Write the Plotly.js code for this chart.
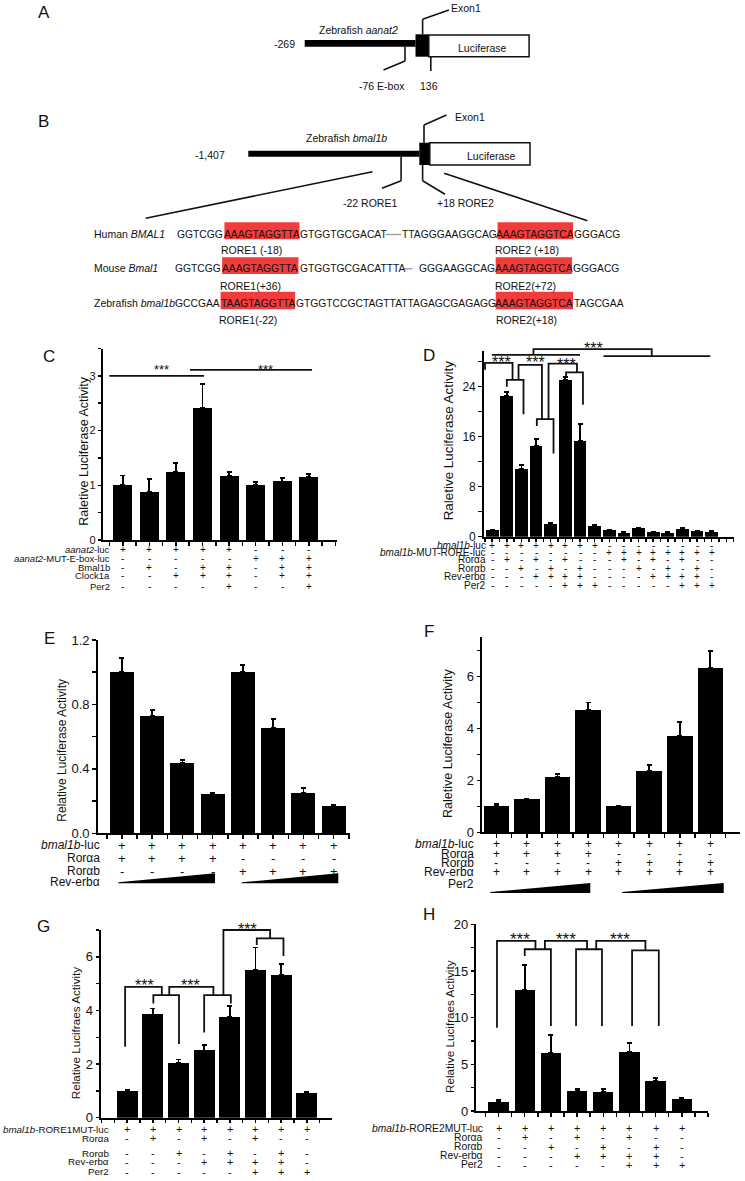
<!DOCTYPE html>
<html><head><meta charset="utf-8">
<script src="https://cdn.plot.ly/plotly-3.0.1.min.js"></script>
<style>html,body{margin:0;padding:0;background:#fff}#chart{width:745px;height:1181px}</style>
</head><body><div id="chart"></div>
<script>
const W = 745, H = 1181;
const FONT = '"Liberation Sans", Arial, Helvetica, sans-serif';

// ---------------- DATA ----------------
// Panel C
const cCategories = [1,2,3,4,5,6,7,8];
const cValues = [1.0, 0.875, 1.25, 2.42, 1.17, 1.0, 1.07, 1.15];
const cErrors = [0.18, 0.235, 0.16, 0.43, 0.08, 0.06, 0.07, 0.05];
const cRowLabels = ['<i>aanat2</i>-luc', '<i>aanat2</i>-MUT-E-box-luc', 'Bmal1b', 'Clock1a', 'Per2'];
const cRowSigns = ['+++++---', '-----+++', '-+-++-++', '--+++-++', '----+--+'];
const cBrackets = [[0.49, 4.06, 3.0, 3.0, 3.0], [3.53, 8.12, 3.11, 3.11, 3.11]];
const cStars = [[2.46, 3.19], [6.38, 3.19]];
const cTitle = 'Raletive Luciferase Activity';

// Panel D
const dCategories = [1,2,3,4,5,6,7,8,9,10,11,12,13,14,15,16];
const dValues = [1.0, 22.5, 10.9, 14.5, 2.1, 25.1, 15.3, 1.76, 1.07, 0.64, 1.33, 0.7, 0.64, 1.28, 0.85, 0.8];
const dErrors = [0.05, 0.6, 0.6, 1.1, 0.1, 0.4, 2.7, 0.05, 0.05, 0.05, 0.05, 0.05, 0.05, 0.05, 0.05, 0.05];
const dRowLabels = ['<i>bmal1b</i>-luc', '<i>bmal1b</i>-MUT-RORE-luc', 'Rorαa', 'Rorαb', 'Rev-erbα', 'Per2'];
const dRowSigns = ['++++++++--------', '--------++++++++', '-+-+-+---+-+-+--', '--+-+-+---+-+-+-', '---++++----++++-', '-----+++-----+++'];
const dBrackets = [
  [0.51, 2.39, 27.8, 26.7, 25.1], [2.0, 3.14, 25.1, 24.0, 19.6],
  [2.8, 4.4, 27.5, 25.1, 18.8], [4.05, 5.19, 18.8, 17.7, 13.3],
  [4.85, 6.79, 27.7, 18.7, 26.3], [6.05, 7.2, 26.3, 25.6, 21.1],
  [0.98, 7.0, 29.1, 29.1, 29.1], [3.82, 11.9, 30.0, 29.1, 28.9],
  [8.6, 15.9, 28.9, 28.9, 28.9]
];
const dStars = [[1.66, 28.6], [3.94, 28.6], [6.1, 28.3], [7.92, 30.8]];
const dTitle = 'Raletive Luciferase Activity';

// Panel E
const eCategories = [1,2,3,4,5,6,7,8];
const eValues = [1.0, 0.73, 0.439, 0.244, 1.0, 0.656, 0.25, 0.17];
const eErrors = [0.087, 0.036, 0.016, 0.006, 0.046, 0.052, 0.03, 0.006];
const eRowLabels = ['<i>bmal1b</i>-luc', 'Rorαa', 'Rorαb', 'Rev-erbα'];
const eRowSigns = ['++++++++', '++++----', '----++++', null];
const eTitle = 'Relative Luciferase Activity';

// Panel F
const fCategories = [1,2,3,4,5,6,7,8];
const fValues = [1.01, 1.28, 2.13, 4.7, 1.01, 2.37, 3.72, 6.33];
const fErrors = [0.09, 0.01, 0.1, 0.29, 0.01, 0.23, 0.52, 0.64];
const fRowLabels = ['<i>bmal1b</i>-luc', 'Rorαa', 'Rorαb', 'Rev-erbα', 'Per2'];
const fRowSigns = ['++++++++', '++++----', '----++++', '++++++++', null];
const fTitle = 'Raletive Luciferase Activity';

// Panel G
const gCategories = [1,2,3,4,5,6,7,8];
const gValues = [0.99, 3.85, 2.05, 2.51, 3.76, 5.5, 5.34, 0.93];
const gErrors = [0.04, 0.22, 0.12, 0.19, 0.41, 0.85, 0.4, 0.03];
const gRowLabels = ['<i>bmal1b</i>-RORE1MUT-luc', 'Rorαa', 'Rorαb', 'Rev-erbα', 'Per2'];
const gRowSigns = ['++++++++', '-+-+-+--', '--+-+-+-', '---++++-', '-----+++'];
const gBrackets = [
  [0.92, 2.35, 4.88, 2.65, 4.57], [2.02, 3.02, 4.57, 4.26, 2.75],
  [2.64, 4.36, 4.88, 4.57, 4.57], [4.0, 5.04, 4.57, 3.18, 4.26],
  [4.75, 6.57, 7.0, 4.57, 6.69], [6.05, 7.09, 6.69, 6.44, 6.03]
];
const gStars = [[1.66, 5.1], [3.45, 5.1], [5.68, 7.2]];
const gTitle = 'Relative Lucifraes Activity';

// Panel H
const hCategories = [1,2,3,4,5,6,7,8];
const hValues = [0.96, 12.96, 6.18, 2.18, 2.07, 6.36, 3.25, 1.29];
const hErrors = [0.22, 2.68, 1.93, 0.18, 0.25, 0.89, 0.32, 0.07];
const hRowLabels = ['<i>bmal1b</i>-RORE2MUT-luc', 'Rorαa', 'Rorαb', 'Rev-erbα', 'Per2'];
const hRowSigns = ['++++++++', '-+-+-+--', '--+-+-+-', '---++++-', '-----+++'];
const hBrackets = [
  [0.94, 2.41, 18.22, 8.93, 17.33], [2.0, 3.0, 17.33, 16.6, 9.1],
  [2.77, 4.38, 18.22, 17.33, 17.33], [3.96, 4.95, 17.33, 9.1, 9.1],
  [4.73, 6.61, 18.22, 17.33, 17.2], [6.1, 7.12, 17.2, 9.1, 9.1]
];
const hStars = [[1.81, 18.9], [3.59, 18.9], [5.63, 18.9]];
const hTitle = 'Relative Lucifraes Activity';

// Panel B sequences
const seqRows = [
  {label: 'Human <i>BMAL1</i>', pre: 'GGTCGG', r1: 'AAAGTAGGTTA', mid1: 'GTGGTGCGACAT', mid2: 'TTAGGGAAGGCAG', r2: 'AAAGTAGGTCA', post: 'GGGACG', l1: 'RORE1 (-18)', l2: 'RORE2 (+18)'},
  {label: 'Mouse <i>Bmal1</i>', pre: 'GGTCGG', r1: 'AAAGTAGGTTA', mid1: 'GTGGTGCGACATTTA', mid2: 'GGGAAGGCAG', r2: 'AAAGTAGGTCA', post: 'GGGACG', l1: 'RORE1(+36)', l2: 'RORE2(+72)'},
  {label: 'Zebrafish <i>bmal1b</i>', pre: 'GCCGAA', r1: 'TAAGTAGGTTA', mid1: 'GTGGTCCGCTAGTTATTAGAGCGAGAGG', mid2: '', r2: 'AAAGTAGGTCA', post: 'TAGCGAA', l1: 'RORE1(-22)', l2: 'RORE2(+18)'}
];

// ---------------- LAYOUT ----------------
const layout = {
  width: W, height: H, margin: {l: 0, r: 0, t: 0, b: 0},
  paper_bgcolor: '#fff', plot_bgcolor: 'rgba(0,0,0,0)', showlegend: false,
  font: {family: FONT, color: '#111'}, shapes: [], annotations: [], bargap: 0
};
const data = [];
const P = x => x / W, Q = y => 1 - y / H;

function txt(x, y, text, size, opts) {
  const a = {xref: 'paper', yref: 'paper', x: P(x), y: Q(y), text: text, showarrow: false,
    xanchor: 'center', yanchor: 'middle', borderpad: 0,
    font: {family: FONT, size: size, color: '#111'}};
  layout.annotations.push(Object.assign(a, opts || {}));
}
function line(x0, y0, x1, y1, w, color, dash) {
  layout.shapes.push({type: 'line', xref: 'paper', yref: 'paper', x0: P(x0), y0: Q(y0), x1: P(x1), y1: Q(y1),
    line: {color: color || '#111', width: w || 1.8, dash: dash || 'solid'}});
}
function rect(x0, y0, x1, y1, fill, lw, lc) {
  layout.shapes.push({type: 'rect', xref: 'paper', yref: 'paper', x0: P(x0), y0: Q(y1), x1: P(x1), y1: Q(y0),
    fillcolor: fill, line: {color: lc || '#111', width: lw || 0}});
}
function poly(pts, fill) {
  const d = pts.map((p, i) => (i ? 'L' : 'M') + P(p[0]).toFixed(5) + ',' + Q(p[1]).toFixed(5)).join(' ') + ' Z';
  layout.shapes.push({type: 'path', xref: 'paper', yref: 'paper', path: d, fillcolor: fill, line: {width: 0}});
}

// -------- Panels A and B (construct diagrams) --------
const LETTER = 17;
txt(43.5, 12.7, 'A', LETTER);
rect(304.7, 40, 415.5, 46.7, '#000');
rect(415.5, 34.3, 428.8, 56.7, '#000');
rect(428.8, 35, 529.1, 56.7, '#fff', 1.5, '#111');
line(422.6, 19.3, 422.6, 34.3, 1.6); line(422.6, 19.3, 448.9, 10, 1.6);
line(405, 46.7, 405, 61, 1.6); line(405, 61, 383.5, 70, 1.6);
line(430.8, 56.7, 430.8, 71, 1.6);
txt(466, 7.5, 'Exon1', 10.5);
txt(358, 30, 'Zebrafish <i>aanat2</i>', 10.5);
txt(284, 44.3, '-269', 10.5);
txt(482.3, 48, 'Luciferase', 10.5);
txt(382, 86, '-76 E-box', 10.5);
txt(429, 86, '136', 10.5);

txt(43.5, 121.7, 'B', LETTER);
rect(248.3, 150.7, 419.3, 156.7, '#000');
rect(419.3, 142.7, 429.8, 165, '#000');
rect(429.8, 142.7, 530, 165, '#fff', 1.5, '#111');
line(424, 125, 424, 142.7, 1.6); line(424, 125, 446.5, 115, 1.6);
line(401.1, 156.7, 401.1, 180.7, 1.6); line(401.1, 180.7, 382, 188.3, 1.6);
line(422.6, 165, 422.6, 180.7, 1.6); line(422.6, 180.7, 445, 194.3, 1.6);
line(372.5, 171.7, 145.7, 218.3, 1.6);
line(444.1, 173.3, 587.4, 220.7, 1.6);
txt(470.4, 116.7, 'Exon1', 10.5);
txt(346.2, 138.3, 'Zebrafish <i>bmal1b</i>', 10.5);
txt(210, 155, '-1,407', 10.5);
txt(491.9, 156, 'Luciferase', 10.5);
txt(370, 203.3, '-22 RORE1', 10.5);
txt(465.6, 203.3, '+18 RORE2', 10.5);

// sequence rows geometry (pixels)
const seqGeo = [
  {y: 234, ly: 250.5, b1: [224.4, 299.4], b2: [497.6, 573], top: 222.3, bot: 239.3, gap: [385.9, 401.1], dash: 'solid'},
  {y: 268.3, ly: 285.5, b1: [222.1, 298.5], b2: [495.7, 572.1], top: 257.3, bot: 274, gap: [403.5, 420.2], dash: 'dash'},
  {y: 303.3, ly: 320.5, b1: [220.6, 295.1], b2: [495.7, 573], top: 291.7, bot: 309.3, gap: null}
];
const SEQF = 10.3, RED = '#f23c3c';
seqRows.forEach((r, i) => {
  const g = seqGeo[i];
  rect(g.b1[0], g.top, g.b1[1], g.bot, RED);
  rect(g.b2[0], g.top, g.b2[1], g.bot, RED);
  txt(93, g.y, r.label, 10.5, {xanchor: 'left'});
  txt(g.b1[0], g.y, r.pre, SEQF, {xanchor: 'right'});
  txt((g.b1[0] + g.b1[1]) / 2, g.y, r.r1, SEQF);
  txt(g.b1[1], g.y, r.mid1, SEQF, {xanchor: 'left'});
  if (r.mid2) txt(g.b2[0], g.y, r.mid2, SEQF, {xanchor: 'right'});
  txt((g.b2[0] + g.b2[1]) / 2, g.y, r.r2, SEQF);
  txt(g.b2[1], g.y, r.post, SEQF, {xanchor: 'left'});
  if (g.gap) line(g.gap[0], g.y + 0.5, g.gap[1], g.y + 0.5, 1.3, '#999', g.dash);
  txt((g.b1[0] + g.b1[1]) / 2 - 10, g.ly, r.l1, 10.5);
  txt((g.b2[0] + g.b2[1]) / 2 - 8, g.ly, r.l2, 10.5);
});

// -------- Bar panels --------
const panels = [
  {idx: 1, letter: 'C', lx: 49.3, ly: 356.7, x0: 103.3, x1: 337, yb: 540, yt: 348.5, xr: [0.266, 9.06], yr: [0, 3.5],
   major: 1, minor: 0.5, fmt: 'd', tick: 11, width: 0.715, cats: cCategories, vals: cValues, errs: cErrors,
   title: cTitle, tx: 84, ty: 451.7, tsize: 12.5,
   labels: cRowLabels, signs: cRowSigns, labelRight: 110.7, rowY: [549, 558.3, 567, 575.7, 586.3], tf: 9.5, sf: 10,
   brackets: cBrackets, stars: cStars, starSize: 13},
  {idx: 2, letter: 'D', lx: 428.7, ly: 355, x0: 483.7, x1: 733.7, yb: 536.7, yt: 350.7, xr: [0.42, 17.5], yr: [0, 29.76],
   major: 8, minor: 4, fmt: 'd', tick: 12, width: 0.87, cats: dCategories, vals: dValues, errs: dErrors,
   title: dTitle, tx: 449.3, ty: 440, tsize: 13.4,
   labels: dRowLabels, signs: dRowSigns, labelRight: 487, rowY: [545, 552.7, 560, 568.3, 576.7, 585], tf: 10, sf: 10,
   brackets: dBrackets, stars: dStars, starSize: 16},
  {idx: 3, letter: 'E', lx: 49.3, ly: 638.3, x0: 97.7, x1: 350, yb: 833.3, yt: 640, xr: [0.197, 8.54], yr: [0, 1.2],
   major: 0.4, minor: 0.2, fmt: '.1f', tick: 13, width: 0.795, cats: eCategories, vals: eValues, errs: eErrors,
   title: eTitle, tx: 61.7, ty: 750, tsize: 12,
   labels: eRowLabels, signs: eRowSigns, labelRight: 101, rowY: [845, 858.3, 871, 881.7], tf: 12, sf: 13,
   wedges: [[118.3, 215], [241.7, 338.3]], wedgeBottom: 883.3, wedgeH: 10},
  {idx: 4, letter: 'F', lx: 428.7, ly: 631, x0: 482, x1: 740.3, yb: 832.3, yt: 637.3, xr: [0.53, 8.98], yr: [0, 7.5],
   major: 2, minor: 1, fmt: 'd', tick: 13, width: 0.84, cats: fCategories, vals: fValues, errs: fErrors,
   title: fTitle, tx: 448.7, ty: 743.3, tsize: 12.5,
   labels: fRowLabels, signs: fRowSigns, labelRight: 475.3, rowY: [844.3, 853.7, 863, 872.3, 884], tf: 12, sf: 12,
   wedges: [[490.3, 590.3], [622, 723.7]], wedgeBottom: 893, wedgeH: 10},
  {idx: 5, letter: 'G', lx: 43.3, ly: 926, x0: 101, x1: 331.7, yb: 1117.7, yt: 930, xr: [-0.02, 8.97], yr: [0, 7],
   major: 2, minor: 1, fmt: 'd', tick: 13, width: 0.81, cats: gCategories, vals: gValues, errs: gErrors,
   title: gTitle, tx: 75, ty: 1033.3, tsize: 11.7,
   labels: gRowLabels, signs: gRowSigns, labelRight: 110, rowY: [1129, 1138.3, 1153.3, 1161.7, 1171.7], tf: 9.8, sf: 11,
   brackets: gBrackets, stars: gStars, starSize: 16},
  {idx: 6, letter: 'H', lx: 429.3, ly: 915, x0: 476.3, x1: 708, yb: 1111, yt: 924.3, xr: [0.15, 9.0], yr: [0, 20],
   major: 5, minor: 2.5, fmt: 'd', tick: 13, width: 0.78, cats: hCategories, vals: hValues, errs: hErrors,
   title: hTitle, tx: 449.3, ty: 1026.7, tsize: 11.7,
   labels: hRowLabels, signs: hRowSigns, labelRight: 483.7, rowY: [1128.3, 1137.3, 1146.5, 1155.5, 1164.5], tf: 10.3, sf: 11,
   brackets: hBrackets, stars: hStars, starSize: 17}
];

function dx(p, x) { return p.x0 + (x - p.xr[0]) / (p.xr[1] - p.xr[0]) * (p.x1 - p.x0); }
function dy(p, y) { return p.yb - (y - p.yr[0]) / (p.yr[1] - p.yr[0]) * (p.yb - p.yt); }

panels.forEach(p => {
  const s = p.idx === 1 ? '' : String(p.idx);
  const axBase = {showline: true, linecolor: '#000', linewidth: 2, ticks: 'outside', ticklen: 3.5, tickwidth: 1.5,
    tickcolor: '#000', showgrid: false, zeroline: false, fixedrange: true, automargin: false};
  layout['xaxis' + s] = Object.assign({}, axBase, {domain: [P(p.x0), P(p.x1)], range: p.xr, anchor: 'y' + s,
    tickmode: 'linear', tick0: 0.5, dtick: 0.5, showticklabels: false});
  layout['yaxis' + s] = Object.assign({}, axBase, {domain: [Q(p.yb), Q(p.yt)], range: p.yr, anchor: 'x' + s,
    tickmode: 'linear', tick0: 0, dtick: p.major, tickformat: p.fmt,
    tickfont: {family: FONT, size: p.tick, color: '#111'},
    minor: {tick0: 0, dtick: p.minor, ticks: 'outside', ticklen: 3.5, tickwidth: 1.5, tickcolor: '#000', showgrid: false}});
  data.push({type: 'bar', x: p.cats, y: p.vals, xaxis: 'x' + s, yaxis: 'y' + s, width: p.width,
    marker: {color: '#000', line: {width: 0}}, hoverinfo: 'skip',
    error_y: {type: 'data', array: p.errs, arrayminus: p.errs.map(() => 0), symmetric: false,
      color: '#000', thickness: 1.8, width: 2.5}});
  // letter and y title
  txt(p.lx, p.ly, p.letter, LETTER);
  txt(p.tx, p.ty, p.title, p.tsize, {textangle: -90});
  // condition table
  p.labels.forEach((lab, k) => {
    txt(p.labelRight, p.rowY[k], lab, p.tf, {xanchor: 'right'});
    const sg = p.signs[k];
    if (sg) sg.split('').forEach((ch, i) => {
      layout.annotations.push({xref: 'x' + s, yref: 'paper', x: p.cats[i], y: Q(p.rowY[k]), text: ch,
        showarrow: false, xanchor: 'center', yanchor: 'middle', borderpad: 0,
        font: {family: FONT, size: p.sf, color: '#111'}});
    });
  });
  if (p.wedges) p.wedges.forEach(w => {
    poly([[w[0], p.wedgeBottom - 1], [w[1], p.wedgeBottom - p.wedgeH], [w[1], p.wedgeBottom], [w[0], p.wedgeBottom]], '#000');
  });
  // significance brackets
  if (p.brackets) p.brackets.forEach(b => {
    const pts = [[b[0], b[3]], [b[0], b[2]], [b[1], b[2]], [b[1], b[4]]];
    const d = pts.map((q, i) => (i ? 'L' : 'M') + P(dx(p, q[0])).toFixed(5) + ',' + Q(dy(p, q[1])).toFixed(5)).join(' ');
    layout.shapes.push({type: 'path', xref: 'paper', yref: 'paper', path: d, line: {color: '#111', width: 1.8}});
  });
  if (p.stars) p.stars.forEach(st => {
    txt(dx(p, st[0]), dy(p, st[1]) + 0.28 * p.starSize, '***', p.starSize);
  });
});

Plotly.newPlot('chart', data, layout, {staticPlot: true, displayModeBar: false});
</script>
</body></html>
